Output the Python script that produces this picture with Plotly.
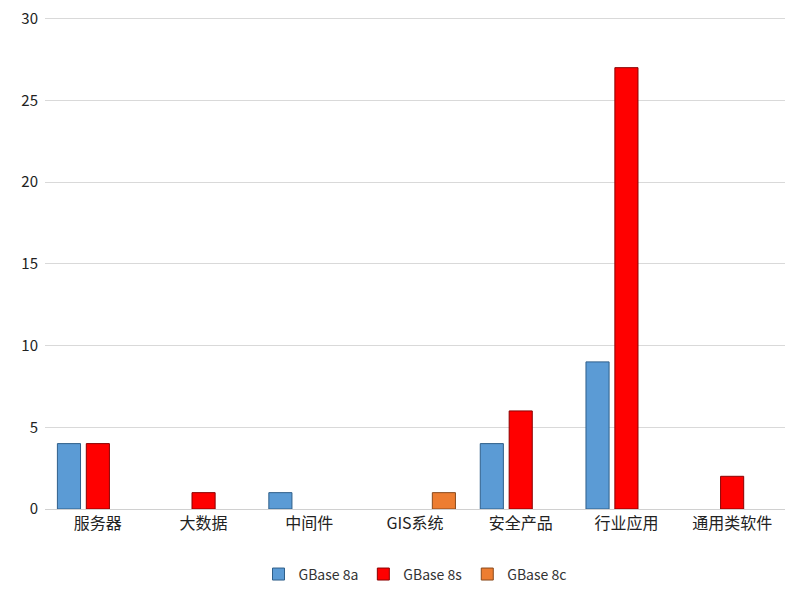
import plotly.graph_objects as go

categories = ["服务器", "大数据", "中间件", "GIS系统", "安全产品", "行业应用", "通用类软件"]
gbase_8a = [4, None, 1, None, 4, 9, None]
gbase_8s = [4, 1, None, None, 6, 27, 2]
gbase_8c = [None, None, None, 1, None, None, None]

series = [
    ("GBase 8a", gbase_8a, "#5B9BD5", "#2F5F8A"),
    ("GBase 8s", gbase_8s, "#FF0000", "#8B0000"),
    ("GBase 8c", gbase_8c, "#ED7D31", "#8A4A1C"),
]

fig = go.Figure()
for name, vals, color, line in series:
    fig.add_trace(go.Bar(
        name=name, x=categories, y=vals,
        marker=dict(color=color, line=dict(color=line, width=1)),
    ))

fig.update_layout(
    width=800, height=597,
    margin=dict(l=37, r=23, t=9, b=96),
    paper_bgcolor="white", plot_bgcolor="white",
    barmode="group", bargap=0.18, bargroupgap=0.2,
    font=dict(family="Noto Sans CJK SC, Noto Sans, sans-serif", color="#222222"),
    xaxis=dict(
        tickfont=dict(size=16, color="#222222"),
        showline=True, linecolor="#D0D0D0", linewidth=1,
        ticks="",
    ),
    yaxis=dict(
        range=[0, 30.1], tickvals=[0, 5, 10, 15, 20, 25, 30],
        showgrid=True, gridcolor="#D9D9D9", gridwidth=1,
        zeroline=False, automargin=False,
        tickfont=dict(size=15, color="#222222"),
        ticks="", ticklabelstandoff=6, ticklabeloverflow="allow",
    ),
    legend=dict(
        orientation="h", x=0.5, xanchor="center", y=-0.133, yanchor="middle",
        font=dict(size=14, color="#333333"),
        itemwidth=30,
    ),
)

fig.write_html("out.html")
